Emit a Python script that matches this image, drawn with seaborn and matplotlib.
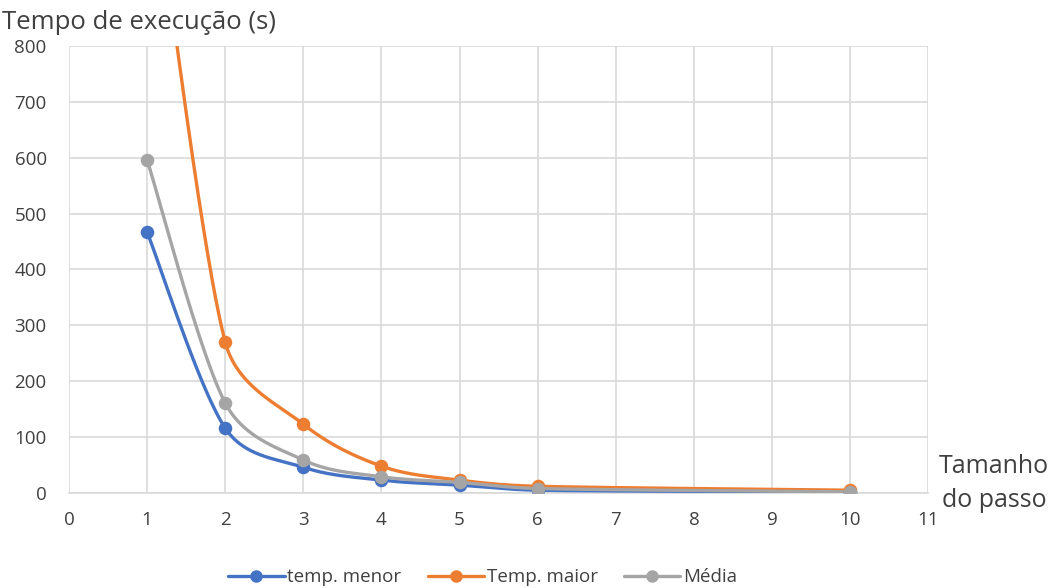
import numpy as np
import pandas as pd
import matplotlib
matplotlib.use("Agg")
import matplotlib.pyplot as plt
import seaborn as sns
from matplotlib.lines import Line2D

# Data
passo = [1, 2, 3, 4, 5, 6, 10]
temp_menor = [467, 116, 46, 23, 14, 5, 2]
temp_maior = [1200, 270, 123, 48, 23, 12, 5]
media = [596, 161, 59, 29, 19, 8, 2]
series_names = ["temp. menor", "Temp. maior", "Média"]
colors = ["#4472C4", "#ED7D31", "#A5A5A5"]
x_ticks = list(range(0, 12))
y_ticks = list(range(0, 900, 100))

sns.set_theme(style="white")
plt.rcParams['font.family'] = ['Open Sans', 'DejaVu Sans']

XMAX, YMAX = 11, 800
PX_W, PX_H = 859.0, 447.0


def smooth(xs, ys, n=60, ratio=0.4):
    """Excel-like smoothed line: cubic Bezier segments with clamped Catmull-Rom handles."""
    P = np.column_stack([np.array(xs) / XMAX * PX_W, np.array(ys) / YMAX * PX_H]).astype(float)
    out = []
    m = len(P)
    for i in range(m - 1):
        p0 = P[i - 1] if i > 0 else P[i]
        p1 = P[i]
        p2 = P[i + 1]
        p3 = P[i + 2] if i + 2 < m else P[i + 1]
        seglen = np.linalg.norm(p2 - p1)
        h1 = (p2 - p0) / 6.0
        h2 = (p3 - p1) / 6.0
        for h in (h1, h2):
            L = np.linalg.norm(h)
            if L > ratio * seglen:
                h *= ratio * seglen / L
        c1 = p1 + h1
        c2 = p2 - h2
        t = np.linspace(0, 1, n)[:, None]
        seg = ((1 - t) ** 3) * p1 + 3 * ((1 - t) ** 2) * t * c1 + 3 * (1 - t) * t ** 2 * c2 + t ** 3 * p2
        out.append(seg if i == 0 else seg[1:])
    Q = np.vstack(out)
    return Q[:, 0] / PX_W * XMAX, Q[:, 1] / PX_H * YMAX


fig = plt.figure(figsize=(10.61, 5.88), dpi=100)
ax = fig.add_axes([0.065, 0.1616, 0.81, 0.7602])

for name, vals, col in zip(series_names, [temp_menor, temp_maior, media], colors):
    cx, cy = smooth(passo, vals)
    cdf = pd.DataFrame({"x": cx, "y": cy})
    sns.lineplot(data=cdf, x="x", y="y", ax=ax, color=col, linewidth=2.4, sort=False,
                 estimator=None, zorder=3)
    pdf = pd.DataFrame({"x": passo, "y": vals})
    sns.scatterplot(data=pdf, x="x", y="y", ax=ax, color=col, s=95, edgecolor=col,
                    linewidth=0, zorder=4)

ax.set_xlim(0, XMAX)
ax.set_ylim(0, YMAX)
ax.set_xticks(x_ticks)
ax.set_yticks(y_ticks)
ax.grid(True, color="#D9D9D9", linewidth=1.2)
ax.set_axisbelow(True)
for s in ["top", "right", "left"]:
    ax.spines[s].set_visible(False)
ax.spines["bottom"].set_color("#D9D9D9")
ax.spines["bottom"].set_linewidth(1.2)
ax.tick_params(axis="both", labelsize=13.5, labelcolor="#404040", length=0)
ax.tick_params(axis="y", pad=16)
ax.tick_params(axis="x", pad=13)
for lab in ax.get_xticklabels() + ax.get_yticklabels():
    lab.set_fontweight("medium")
ax.set_xlabel("")
ax.set_ylabel("")

fig.text(0.002, 0.962, "Tempo de execução (s)", fontsize=18.5, color="#404040",
         ha="left", va="center")
fig.text(0.937, 0.178, "Tamanho\ndo passo", fontsize=18, color="#404040",
         ha="center", va="center", linespacing=1.45)

handles = [Line2D([0], [0], color=c, linewidth=2.4, marker="o", markersize=8)
           for c in colors]
fig.legend(handles, series_names, loc="center", bbox_to_anchor=(0.455, 0.018),
           ncol=3, frameon=False, fontsize=13.5, labelcolor="#404040",
           handlelength=3.0, handletextpad=0.15, columnspacing=1.4)

fig.savefig("out.png", dpi=100)
